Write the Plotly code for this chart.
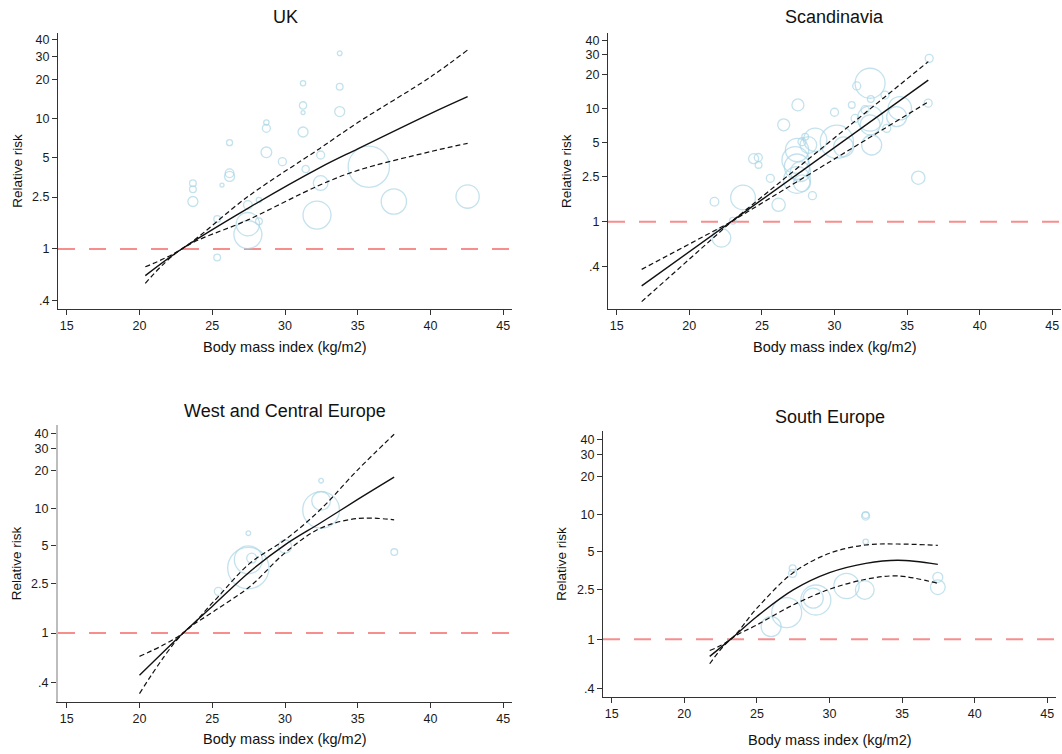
import plotly.graph_objects as go

# ---------------- data ----------------
TITLES = ["UK", "Scandinavia", "West and Central Europe", "South Europe"]
X_TITLE = "Body mass index (kg/m2)"
Y_TITLE = "Relative risk"
X_TICKS = [15, 20, 25, 30, 35, 40, 45]
Y_TICKVALS = [0.4, 1, 2.5, 5, 10, 20, 30, 40]
Y_TICKTEXT = [".4", "1", "2.5", "5", "10", "20", "30", "40"]
REF_RR = 1.0

# UK
UK_FIT_BMI = [20.4, 22.9, 27.45, 32.4, 35.0, 40.0, 42.55]
UK_FIT_RR = [0.625, 1.0, 2.05, 4.2, 5.85, 10.9, 14.7]
UK_HI_RR = [0.73, 1.0, 2.52, 5.9, 9.3, 20.8, 33.5]
UK_LO_RR = [0.545, 1.0, 1.67, 3.09, 4.0, 5.57, 6.45]
UK_BMI = [23.67, 23.67, 23.67, 25.34, 25.34, 25.67, 26.19, 26.19, 26.19, 27.45, 27.45, 27.45,
          28.21, 28.21, 28.72, 28.72, 28.72, 29.82, 31.24, 31.24, 31.24, 31.24, 31.42, 32.2,
          32.45, 32.45, 33.76, 33.76, 33.76, 35.76, 37.48, 42.55]
UK_RR = [3.19, 2.87, 2.31, 1.70, 0.86, 3.09, 6.53, 3.8, 3.6, 2.17, 1.55, 1.29,
         2.37, 1.63, 9.3, 8.41, 5.5, 4.67, 18.6, 12.6, 11.1, 7.88, 4.1, 1.82,
         5.25, 3.2, 31.6, 17.5, 11.3, 4.27, 2.31, 2.52]
UK_W = [6.7, 6.7, 10, 6.7, 6.7, 4, 6, 8.7, 10, 8.7, 23.3, 28,
        5.3, 6.7, 5.3, 8, 10.7, 8, 5.3, 7.3, 4, 10, 7.3, 28,
        8, 14.7, 4.7, 6.7, 10, 41.3, 25.3, 23.3]

# Scandinavia
SC_FIT_BMI = [16.72, 22.9, 36.46]
SC_FIT_RR = [0.27, 1.0, 17.9]
SC_HI_RR = [0.378, 1.0, 26.1]
SC_LO_RR = [0.196, 1.0, 11.5]
SC_BMI = [21.73, 22.21, 23.0, 23.70, 24.43, 24.75, 24.77, 25.58, 26.15, 26.5, 27.48, 27.42,
          27.3, 27.42, 27.65, 27.42, 27.76, 28.48, 28.2, 27.98, 27.76, 28.67, 30.0, 30.16,
          30.63, 31.19, 31.53, 32.45, 32.5, 32.1, 31.42, 32.45, 32.45, 32.56, 33.6, 34.5,
          34.28, 36.45, 35.77, 36.52, 33.48]
SC_RR = [1.50, 0.72, 1.02, 1.64, 3.61, 3.7, 3.18, 2.42, 1.41, 7.2, 10.8, 4.31,
         3.52, 3.07, 2.77, 2.34, 2.19, 1.70, 4.77, 5.65, 5.1, 5.3, 9.3, 5.1,
         4.6, 10.8, 15.9, 16.8, 12.2, 9.8, 8.2, 8.2, 7.2, 4.77, 6.7, 10.1,
         8.5, 11.2, 2.45, 27.9, 13.2]
SC_W = [8.7, 18.7, 6.7, 24.7, 10, 8, 6.7, 8, 13.3, 12, 12, 23.3,
        26.7, 25.3, 20, 26.7, 16.7, 8, 16.7, 6.7, 8, 23.3, 8, 33.3,
        20, 6.7, 8, 30, 6.7, 8, 8, 25.3, 20, 20, 8, 23.3,
        20, 8, 13.3, 8, 8]

# West and Central Europe
WC_FIT_BMI = [20.0, 23.0, 25.1, 27.6, 30.0, 32.4, 35.0, 37.5]
WC_FIT_RR = [0.458, 1.0, 1.68, 3.12, 5.1, 7.6, 11.8, 17.8]
WC_HI_RR = [0.65, 1.0, 1.79, 3.64, 5.6, 9.7, 20.4, 39.3]
WC_LO_RR = [0.327, 1.0, 1.49, 2.37, 4.4, 6.9, 8.3, 8.1]
WC_BMI = [25.42, 27.48, 27.48, 27.48, 27.71, 30.0, 32.48, 32.48, 32.48, 37.51]
WC_RR = [2.16, 6.33, 3.32, 3.87, 3.99, 4.95, 16.7, 11.5, 9.73, 4.46]
WC_W = [8, 4.7, 41.3, 28, 10, 13.3, 4.7, 18.7, 36.7, 6.7]

# South Europe
SE_FIT_BMI = [21.75, 23.2, 25.0, 27.5, 30.0, 32.5, 34.7, 37.46]
SE_FIT_RR = [0.727, 1.0, 1.52, 2.48, 3.41, 4.05, 4.29, 3.98]
SE_HI_RR = [0.81, 1.0, 1.77, 3.41, 4.88, 5.69, 5.79, 5.65]
SE_LO_RR = [0.635, 1.0, 1.30, 1.88, 2.51, 3.02, 3.21, 2.8]
SE_BMI = [25.98, 27.05, 27.46, 27.46, 29.06, 28.88, 31.17, 32.43, 32.49, 32.49, 32.49, 37.46, 37.46]
SE_RR = [1.26, 1.63, 3.7, 3.37, 2.06, 2.13, 2.67, 2.48, 9.88, 9.7, 6.04, 3.13, 2.61]
SE_W = [20, 30, 6.7, 8, 30, 20, 25.3, 18.7, 6.7, 8, 5.3, 10, 14.7]

X_RANGE = [14.4, 45.6]
Y_RANGES = [[-0.46, 1.655], [-0.773, 1.67], [-0.553, 1.669], [-0.464, 1.669]]

# ---------------- layout geometry (pixels) ----------------
W, H = 1062, 754
PANELS_PX = [  # x0, x1, y_top, y_bottom
    (58, 512, 33, 309),
    (608, 1061, 33, 309),
    (58, 512, 425, 702),
    (603, 1056, 431, 697),
]
TITLE_Y = [17, 17, 410.7, 416.7]
XT_Y = [346.7, 346.7, 739.3, 740]
YT_X = [16.7, 566, 16.7, 560.7]

FONT = "Liberation Sans, Arial, sans-serif"
BUBBLE = "#a9d6e5"
AXC = "#333333"

panels = [
    (UK_FIT_BMI, UK_FIT_RR, UK_HI_RR, UK_LO_RR, UK_BMI, UK_RR, UK_W, "spline"),
    (SC_FIT_BMI, SC_FIT_RR, SC_HI_RR, SC_LO_RR, SC_BMI, SC_RR, SC_W, "linear"),
    (WC_FIT_BMI, WC_FIT_RR, WC_HI_RR, WC_LO_RR, WC_BMI, WC_RR, WC_W, "spline"),
    (SE_FIT_BMI, SE_FIT_RR, SE_HI_RR, SE_LO_RR, SE_BMI, SE_RR, SE_W, "spline"),
]

fig = go.Figure()
layout = dict(
    width=W, height=H, margin=dict(l=0, r=0, t=0, b=0),
    paper_bgcolor="white", plot_bgcolor="white",
    showlegend=False, hovermode=False,
    font=dict(family=FONT, color="#1a1a1a"),
)
annotations = []

for i, (fb, fr, hr, lr, bb, br, bw, shape) in enumerate(panels):
    n = "" if i == 0 else str(i + 1)
    xa, ya = "x" + n, "y" + n
    x0, x1, yt, ybt = PANELS_PX[i]

    # reference line RR = 1
    fig.add_trace(go.Scatter(x=X_RANGE, y=[REF_RR, REF_RR], mode="lines",
                             line=dict(color="rgba(240,50,50,0.55)", width=2, dash="17px,14px"),
                             xaxis=xa, yaxis=ya))
    # study bubbles
    fig.add_trace(go.Scatter(x=bb, y=br, mode="markers",
                             marker=dict(symbol="circle-open", size=bw, color=BUBBLE,
                                         line=dict(width=1.3, color=BUBBLE)),
                             xaxis=xa, yaxis=ya))
    # CI
    for ci in (hr, lr):
        fig.add_trace(go.Scatter(x=fb, y=ci, mode="lines",
                                 line=dict(color="#111111", width=1.2, dash="5px,3px", shape=shape),
                                 xaxis=xa, yaxis=ya))
    # fit
    fig.add_trace(go.Scatter(x=fb, y=fr, mode="lines",
                             line=dict(color="#111111", width=1.4, shape=shape),
                             xaxis=xa, yaxis=ya))

    layout["xaxis" + n] = dict(
        domain=[x0 / W, x1 / W], anchor=ya, range=X_RANGE,
        tickvals=X_TICKS, ticks="outside", ticklen=5, tickcolor=AXC,
        showline=True, linecolor=AXC, linewidth=1, showgrid=False, zeroline=False,
        tickfont=dict(size=12.5, family=FONT, color="#1a1a1a"),
    )
    ycol = "#bdbdbd" if i == 2 else AXC
    layout["yaxis" + n] = dict(
        domain=[1 - ybt / H, 1 - yt / H], anchor=xa, type="log", range=Y_RANGES[i],
        tickvals=Y_TICKVALS, ticktext=Y_TICKTEXT, ticks="outside", ticklen=5, tickcolor=AXC,
        showline=True, linecolor=ycol, linewidth=2 if i == 2 else 1,
        showgrid=False, zeroline=False,
        tickfont=dict(size=12.5, family=FONT, color="#1a1a1a"),
    )
    cx = (x0 + x1) / 2 / W
    common = dict(xref="paper", yref="paper", xanchor="center", yanchor="middle", showarrow=False)
    annotations.append(dict(text=TITLES[i], x=cx, y=1 - TITLE_Y[i] / H,
                            font=dict(size=18, family=FONT, color="#111"), **common))
    annotations.append(dict(text=X_TITLE, x=cx, y=1 - XT_Y[i] / H,
                            font=dict(size=14.5, family=FONT, color="#111"), **common))
    annotations.append(dict(text=Y_TITLE, x=YT_X[i] / W, y=1 - (yt + ybt) / 2 / H, textangle=-90,
                            font=dict(size=13.5, family=FONT, color="#111"), **common))

layout["annotations"] = annotations
fig.update_layout(**layout)
fig.write_html("out.html")
